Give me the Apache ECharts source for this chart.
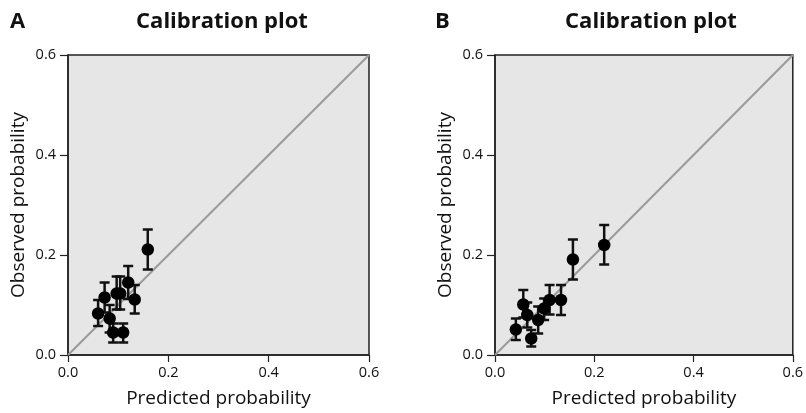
<!DOCTYPE html>
<html>
<head>
<meta charset="utf-8">
<script src="https://cdn.jsdelivr.net/npm/echarts@6/dist/echarts.min.js"></script>
<style>
  html, body { margin: 0; padding: 0; background: #fff; }
  #chart { width: 806px; height: 413px; }
</style>
</head>
<body>
<div id="chart"></div>
<script>
// panel A: predicted, observed, lower and upper error bar ends
var predA = [0.159, 0.120, 0.133, 0.073, 0.097, 0.104, 0.060, 0.083, 0.090, 0.110];
var obsA  = [0.211, 0.145, 0.111, 0.115, 0.123, 0.123, 0.083, 0.073, 0.045, 0.045];
var lowA  = [0.171, 0.112, 0.083, 0.085, 0.091, 0.091, 0.058, 0.045, 0.025, 0.025];
var highA = [0.251, 0.178, 0.140, 0.145, 0.157, 0.157, 0.110, 0.100, 0.063, 0.063];

// panel B
var predB = [0.220, 0.157, 0.133, 0.110, 0.099, 0.087, 0.065, 0.057, 0.042, 0.073];
var obsB  = [0.220, 0.191, 0.110, 0.110, 0.093, 0.070, 0.080, 0.101, 0.051, 0.033];
var lowB  = [0.181, 0.151, 0.080, 0.081, 0.070, 0.043, 0.055, 0.075, 0.030, 0.017];
var highB = [0.260, 0.231, 0.140, 0.140, 0.113, 0.097, 0.105, 0.130, 0.073, 0.050];

var ticks = [0, 0.2, 0.4, 0.6];
var font = '"Open Sans", "Noto Sans", sans-serif';

var chart = echarts.init(document.getElementById('chart'));

function points(px, py) {
  return px.map(function (x, i) { return [x, py[i]]; });
}
function bars(px, lo, hi) {
  return px.map(function (x, i) { return [x, lo[i], hi[i]]; });
}

function drawBar(params, api) {
  var top = api.coord([api.value(0), api.value(2)]);
  var bot = api.coord([api.value(0), api.value(1)]);
  var w = 5;
  var st = { stroke: '#111', lineWidth: 2.5 };
  return {
    type: 'group',
    children: [
      { type: 'line', shape: { x1: top[0], y1: top[1], x2: bot[0], y2: bot[1] }, style: st },
      { type: 'line', shape: { x1: top[0] - w, y1: top[1], x2: top[0] + w, y2: top[1] }, style: st },
      { type: 'line', shape: { x1: bot[0] - w, y1: bot[1], x2: bot[0] + w, y2: bot[1] }, style: st }
    ]
  };
}

function xAxis(idx) {
  return {
    type: 'value', gridIndex: idx, min: 0, max: 0.6, interval: 0.2,
    name: 'Predicted probability', nameLocation: 'middle', nameGap: 34,
    nameTextStyle: { fontFamily: font, fontSize: 19, color: '#111' },
    axisLine: { lineStyle: { color: '#222', width: 1.5 } },
    axisTick: { length: 7, lineStyle: { color: '#222', width: 1.2 } },
    axisLabel: { fontFamily: font, fontSize: 14.5, color: '#111', margin: 10,
                 formatter: function (v) { return v.toFixed(1); } },
    splitLine: { show: false }
  };
}
function yAxis(idx) {
  return {
    type: 'value', gridIndex: idx, min: 0, max: 0.6, interval: 0.2,
    name: 'Observed probability', nameLocation: 'middle', nameGap: 40,
    nameTextStyle: { fontFamily: font, fontSize: 19, color: '#111' },
    axisLine: { show: true, lineStyle: { color: '#222', width: 1.5 } },
    axisTick: { show: true, length: 8, lineStyle: { color: '#222', width: 1.2 } },
    axisLabel: { fontFamily: font, fontSize: 14.5, color: '#111', margin: 12,
                 formatter: function (v) { return v.toFixed(1); } },
    splitLine: { show: false }
  };
}

function panelSeries(idx, px, py, lo, hi) {
  return [
    {
      type: 'line', xAxisIndex: idx, yAxisIndex: idx,
      data: [[ticks[0], ticks[0]], [ticks[3], ticks[3]]],
      symbol: 'none', silent: true, z: 1,
      lineStyle: { color: '#9a9a9a', width: 2 }
    },
    {
      type: 'custom', xAxisIndex: idx, yAxisIndex: idx,
      data: bars(px, lo, hi), renderItem: drawBar, z: 2
    },
    {
      type: 'scatter', xAxisIndex: idx, yAxisIndex: idx,
      data: points(px, py), symbolSize: 12.5, z: 3,
      itemStyle: { color: '#000', opacity: 1 }
    }
  ];
}

var titleStyle = { fontFamily: font, fontSize: 22, fontWeight: 'bold', color: '#111' };
var letterStyle = { fontFamily: font, fontSize: 22, fontWeight: 'bold', color: '#111' };

chart.setOption({
  animation: false,
  backgroundColor: '#fff',
  title: [
    { text: 'A', left: 5, top: 6, textStyle: letterStyle },
    { text: 'Calibration plot', left: 217, top: 6, textAlign: 'center', textStyle: titleStyle },
    { text: 'B', left: 430, top: 6, textStyle: letterStyle },
    { text: 'Calibration plot', left: 646, top: 6, textAlign: 'center', textStyle: titleStyle }
  ],
  grid: [
    { left: 68, right: 437, top: 55, bottom: 58, show: true,
      backgroundColor: '#e6e6e6', borderColor: '#222', borderWidth: 1.5 },
    { left: 495, right: 10, top: 55, bottom: 58, show: true,
      backgroundColor: '#e6e6e6', borderColor: '#222', borderWidth: 1.5 }
  ],
  xAxis: [xAxis(0), xAxis(1)],
  yAxis: [yAxis(0), yAxis(1)],
  series: panelSeries(0, predA, obsA, lowA, highA)
    .concat(panelSeries(1, predB, obsB, lowB, highB))
});
</script>
</body>
</html>
